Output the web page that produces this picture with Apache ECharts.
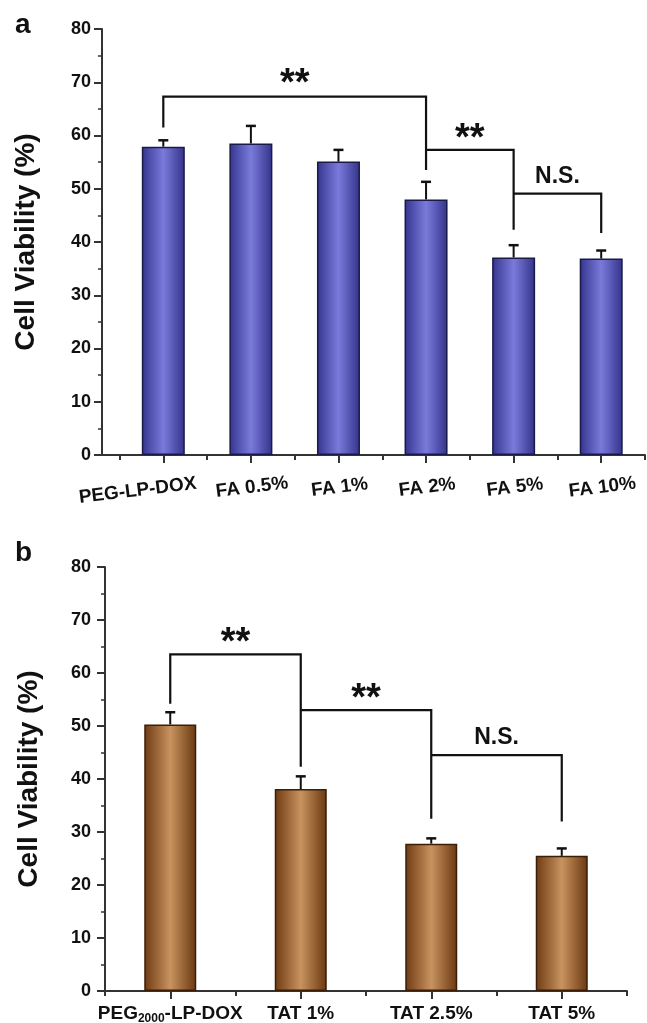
<!DOCTYPE html>
<html><head><meta charset="utf-8">
<script src="https://cdn.jsdelivr.net/npm/echarts@6/dist/echarts.min.js"></script>
<style>html,body{margin:0;padding:0;background:#fff}#c{width:647px;height:1023px}</style>
</head><body><div id="c"></div>
<script>
// ---- Panel a data ----
const catsA = ['PEG-LP-DOX', 'FA 0.5%', 'FA 1%', 'FA 2%', 'FA 5%', 'FA 10%'];
const valsA = [57.9, 58.5, 55.1, 48.0, 37.1, 36.9];
const errA  = [1.2, 3.3, 2.2, 3.3, 2.3, 1.5];
// brackets: [fromPos, toPos, topValue, leftEndValue, rightEndValue, label, labelValue]
const bracketsA = [
  [1, 4, 67.3, 61.5, 53.5, '**', 69.6],
  [4, 5, 57.3, 57.3, 42.3, '**', 59.3],
  [5, 6, 49.1, 49.1, 41.7, 'N.S.', 52.2]
];
// ---- Panel b data ----
const catsB = ['PEG2000-LP-DOX', 'TAT 1%', 'TAT 2.5%', 'TAT 5%'];
const valsB = [50.3, 38.1, 27.8, 25.5];
const errB  = [2.3, 2.4, 1.0, 1.4];
const bracketsB = [
  [1, 2, 63.5, 54.2, 42.3, '**', 65.5],
  [2, 3, 53.0, 53.0, 32.5, '**', 55.0],
  [3, 4, 44.5, 44.5, 32.0, 'N.S.', 47.8]
];
const yTicks = [0, 10, 20, 30, 40, 50, 60, 70, 80];

const FONT = 'Liberation Sans, Arial, Helvetica, sans-serif';
const INK = '#111';

function positions(n) { return Array.from({length: n}, (_, i) => i + 1); }
function halfPositions(n) { return Array.from({length: n + 1}, (_, i) => i + 0.5); }

function yAxisCfg(grid, margin) {
  return {
    gridIndex: grid, type: 'value', min: yTicks[0], max: yTicks[yTicks.length - 1], interval: 10,
    name: 'Cell Viability (%)', nameLocation: 'middle', nameGap: 62, nameRotate: 90,
    nameTextStyle: {fontFamily: FONT, fontWeight: 'bold', fontSize: 28, color: INK},
    axisLine: {show: true, lineStyle: {color: '#333', width: 2}},
    axisTick: {show: true, length: 8, lineStyle: {color: '#333', width: 2}},
    minorTick: {show: true, splitNumber: 2, length: 4, lineStyle: {color: '#333', width: 1.5}},
    splitLine: {show: false},
    axisLabel: {fontFamily: FONT, fontWeight: 'bold', fontSize: 18, color: INK, margin: margin}
  };
}

function xAxesCfg(grid, cats, min, max, labelCfg) {
  return [{
    gridIndex: grid, type: 'value', min: min, max: max,
    axisLine: {show: true, onZero: false, lineStyle: {color: '#333', width: 2}},
    axisTick: {show: true, length: 8, customValues: positions(cats.length), lineStyle: {color: '#333', width: 2}},
    splitLine: {show: false},
    axisLabel: Object.assign({
      customValues: positions(cats.length),
      showMinLabel: true, showMaxLabel: true, hideOverlap: false,
      fontFamily: FONT, fontWeight: 'bold', color: INK
    }, labelCfg)
  }, {
    gridIndex: grid, type: 'value', min: min, max: max, position: 'bottom',
    axisLine: {show: false},
    axisTick: {show: true, length: 5, customValues: halfPositions(cats.length), lineStyle: {color: '#333', width: 2}},
    splitLine: {show: false},
    axisLabel: {show: false}
  }];
}

function barSeries(xi, yi, vals, width, colors, border) {
  return {
    type: 'bar', xAxisIndex: xi, yAxisIndex: yi, barWidth: width,
    data: vals.map((v, i) => [i + 1, v]),
    itemStyle: {
      color: {type: 'linear', x: 0, y: 0, x2: 1, y2: 0, colorStops: [
        {offset: 0, color: colors[0]}, {offset: 0.5, color: colors[1]}, {offset: 1, color: colors[2]}
      ]},
      borderColor: border, borderWidth: 1.5
    },
    z: 2
  };
}

function errSeries(xi, yi, vals, errs) {
  return {
    type: 'custom', xAxisIndex: xi, yAxisIndex: yi, z: 3,
    data: vals.map((v, i) => [i + 1, v, errs[i]]),
    renderItem: function (params, api) {
      const x = api.value(0), v = api.value(1), e = api.value(2);
      const p0 = api.coord([x, v]);
      const p1 = api.coord([x, v + e]);
      return {type: 'group', children: [
        {type: 'line', shape: {x1: p0[0], y1: p0[1], x2: p1[0], y2: p1[1]}, style: {stroke: INK, lineWidth: 2}},
        {type: 'line', shape: {x1: p1[0] - 5, y1: p1[1], x2: p1[0] + 5, y2: p1[1]}, style: {stroke: INK, lineWidth: 2.5}}
      ]};
    }
  };
}

function bracketSeries(xi, yi, brackets, starFont, nsFont) {
  return {
    type: 'custom', xAxisIndex: xi, yAxisIndex: yi, z: 4, clip: false,
    data: brackets.map(b => [b[0], b[1], b[2], b[3], b[4], b[6]]),
    renderItem: function (params, api) {
      const b = brackets[params.dataIndex];
      const a = api.coord([api.value(0), api.value(3)]);
      const t1 = api.coord([api.value(0), api.value(2)]);
      const t2 = api.coord([api.value(1), api.value(2)]);
      const c = api.coord([api.value(1), api.value(4)]);
      const lab = api.coord([(api.value(0) + api.value(1)) / 2, api.value(5)]);
      const isStar = b[5] === '**';
      return {type: 'group', children: [
        {type: 'polyline', shape: {points: [a, t1, t2, c]}, style: {stroke: INK, lineWidth: 2.2, fill: null}},
        {type: 'text', x: lab[0], y: lab[1], style: {
          text: b[5], fontFamily: FONT, fontWeight: 'bold',
          fontSize: isStar ? starFont : nsFont, fill: INK, align: 'center', verticalAlign: 'middle'}}
      ]};
    }
  };
}

const chart = echarts.init(document.getElementById('c'), null, {renderer: 'canvas'});
const xa = xAxesCfg(0, catsA, 0.3, 6.5, {
  rotate: 7, align: 'center', verticalAlign: 'top', fontSize: 19, margin: 23,
  formatter: v => {
    const i = Math.round(v) - 1;
    const s = catsA[i] || '';
    return i === 0 ? '{p|' + s + '}' : s;
  },
  rich: {
    p: {fontFamily: FONT, fontWeight: 'bold', fontSize: 19, color: INK, padding: [0, 54, 0, 0]}
  }
});
const xb = xAxesCfg(1, catsB, 0.5, 4.5, {
  fontSize: 19, margin: 13,
  formatter: v => {
    const s = catsB[Math.round(v) - 1] || '';
    if (s.indexOf('PEG2000') === 0) return '{n|PEG}{s|2000}{n|' + s.slice(7) + '}';
    return '{n|' + s + '}';
  },
  rich: {
    n: {fontFamily: FONT, fontWeight: 'bold', fontSize: 19, color: INK},
    s: {fontFamily: FONT, fontWeight: 'bold', fontSize: 12, color: INK, verticalAlign: 'bottom', padding: [0, 0, -2, 0]}
  }
});

chart.setOption({
  animation: false,
  backgroundColor: '#fff',
  title: [
    {text: 'a', left: 10, top: 6, textStyle: {fontFamily: FONT, fontWeight: 'bold', fontSize: 28, color: INK}},
    {text: 'b', left: 10, top: 534, textStyle: {fontFamily: FONT, fontWeight: 'bold', fontSize: 28, color: INK}}
  ],
  grid: [
    {left: 102, right: 2, top: 29, height: 426, containLabel: false, outerBoundsMode: 'none'},
    {left: 105, right: 20, top: 567, height: 424, containLabel: false, outerBoundsMode: 'none'}
  ],
  xAxis: [xa[0], xa[1], xb[0], xb[1]],
  yAxis: [yAxisCfg(0, 11), yAxisCfg(1, 14)],
  series: [
    barSeries(0, 0, valsA, 43, ['#34348f', '#7a7adb', '#33338a'], '#1a1a48'),
    errSeries(0, 0, valsA, errA),
    bracketSeries(0, 0, bracketsA, 38, 23),
    barSeries(2, 1, valsB, 52, ['#6e3a12', '#c8935f', '#6a3810'], '#3a1e08'),
    errSeries(2, 1, valsB, errB),
    bracketSeries(2, 1, bracketsB, 38, 23)
  ]
});
</script>
</body></html>
